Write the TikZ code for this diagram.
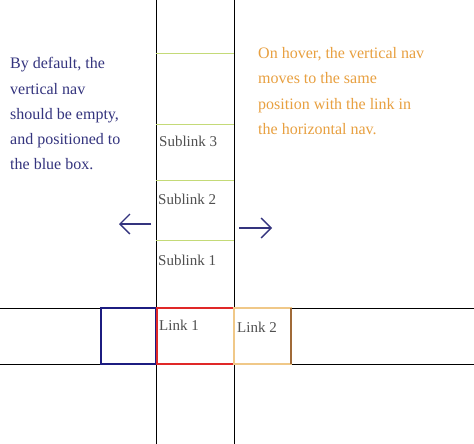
\documentclass[tikz,border=0pt]{standalone}
\usepackage{fontspec}
\setmainfont{Liberation Serif}
\usetikzlibrary{arrows.meta}
\definecolor{navy}{HTML}{34347E}
\definecolor{boxblue}{HTML}{1C1C80}
\definecolor{boxred}{HTML}{E02828}
\definecolor{boxtan}{HTML}{F0C888}
\definecolor{boxbrown}{HTML}{A06A38}
\definecolor{ortext}{HTML}{E8A040}
\definecolor{lime}{HTML}{C4DA78}
\definecolor{graytext}{HTML}{505050}
\begin{document}
\begin{tikzpicture}[x=1pt,y=-1pt,
  note/.style={anchor=base west,inner sep=0pt,font=\fontsize{16}{18}\selectfont},
  lbl/.style={anchor=base west,inner sep=0pt,text=graytext,font=\fontsize{15}{18}\selectfont},
  frame/.style={black,line width=0.8pt},
  sep/.style={lime,line width=1pt},
  navbox/.style={minimum height=56pt,inner sep=0pt,outer sep=0pt,line width=1.8pt},
  arr/.style={navy,line width=1.3pt,-{Straight Barb[length=10pt,width=20pt,line width=1.3pt]}}]
\useasboundingbox (0,0) rectangle (474,444);
\fill[white] (0,0) rectangle (474,444);
% frame lines
\coordinate (vl0) at (156,0); \coordinate (vl1) at (156,444);
\coordinate (vr0) at (234,0); \coordinate (vr1) at (234,444);
\coordinate (ht0) at (0,308); \coordinate (ht1) at (474,308);
\coordinate (hb0) at (0,364); \coordinate (hb1) at (474,364);
\draw[frame] (vl0) -- (vl1);
\draw[frame] (vr0) -- (vr1);
\draw[frame] (ht0) -- (ht1);
\draw[frame] (hb0) -- (hb1);
% separators
\foreach \y/\n in {54/a,124/b,180/c,240/d}{
  \coordinate (s\n0) at (156,\y); \coordinate (s\n1) at (234,\y);
  \draw[sep] (s\n0) -- (s\n1);
}
% boxes
\node[navbox,draw=boxblue,minimum width=55pt] (blue) at (128.5,336) {};
\node[navbox,draw=boxred,minimum width=77pt] (red) at (195.5,336) {};
\node[navbox,draw=boxtan,minimum width=57pt] (tan) at (262.5,336) {};
\draw[boxbrown,line width=1.8pt] (tan.north east) -- (tan.south east);
% labels
\node[lbl] (s3) at (159,146) {Sublink 3};
\node[lbl] (s2) at (158,204) {Sublink 2};
\node[lbl] (s1) at (158,265) {Sublink 1};
\node[lbl] (l1) at (159,330) {Link 1};
\node[lbl] (l2) at (237,332) {Link 2};
% notes
\node[note,text=navy] (n1) at (10,69) {By default, the};
\node[note,text=navy] (n2) at (10,94) {vertical nav};
\node[note,text=navy] (n3) at (10,119) {should be empty,};
\node[note,text=navy] (n4) at (10,144) {and positioned to};
\node[note,text=navy] (n5) at (10,169) {the blue box.};
\node[note,text=ortext] (o1) at (258,59) {On hover, the vertical nav};
\node[note,text=ortext] (o2) at (258,84) {moves to the same};
\node[note,text=ortext] (o3) at (258,109) {position with the link in};
\node[note,text=ortext] (o4) at (258,134) {the horizontal nav.};
% arrows
\coordinate (la0) at (151,224); \coordinate (la1) at (119,224);
\coordinate (ra0) at (239,228); \coordinate (ra1) at (272,228);
\draw[arr] (la0) -- (la1);
\draw[arr] (ra0) -- (ra1);
\end{tikzpicture}
\end{document}
